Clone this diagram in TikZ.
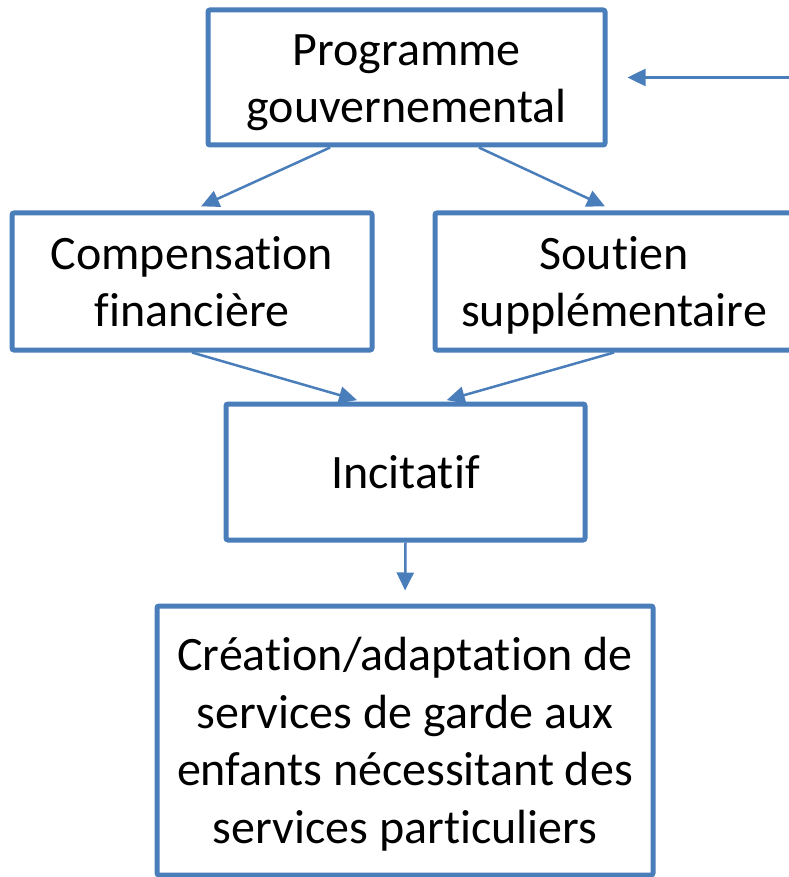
\documentclass[tikz,border=0pt]{standalone}
\usepackage{fontspec}
\setmainfont{Carlito}[Ligatures=NoCommon]
\usetikzlibrary{arrows.meta}
\usetikzlibrary{calc}
\definecolor{bleu}{RGB}{74,126,187}
\tikzstyle{boite} = [rectangle, rounded corners=2pt, draw=bleu, line width=5pt, align=center, text centered, font=\fontsize{48}{57.5}\selectfont, text depth=12.9pt]
\tikzstyle{fleche} = [-{Triangle[length=18pt,width=17pt]}, draw=bleu, fill=bleu, line width=2.5pt]

\begin{document}
\begin{tikzpicture}[x=1pt, y=-1pt]
\useasboundingbox (0,0) rectangle (788,877);
\node (prog) [boite, minimum width=397pt, minimum height=135pt, text height=103.2pt] at (406.5,77.5) {Programme\\gouvernemental};
\node (comp) [boite, minimum width=360pt, minimum height=137pt, text height=103.2pt] at (192,281.5) {Compensation\\financière};
\node (soutien) [boite, minimum width=358pt, minimum height=137pt, text height=103.2pt] at (614,281.5) {Soutien\\supplémentaire};
\node (incit) [boite, minimum width=359pt, minimum height=136pt, text height=45.7pt] at (405.5,472) {Incitatif};
\node (creation) [boite, minimum width=496pt, minimum height=269pt, text height=218.2pt] at (405,740.5) {Création/adaptation de\\services de garde aux\\enfants nécessitant des\\services particuliers};
\coordinate (entree) at (792,77.5);

\draw [fleche, shorten >=20pt] (entree) -- (prog.east);
\draw [fleche, shorten >=10pt] ($(prog.south west)!0.31!(prog.south east)$) -- (comp.north);
\draw [fleche, shorten >=10pt] ($(prog.south west)!0.68!(prog.south east)$) -- (soutien.north);
\draw [fleche, shorten >=5pt] (comp.south) -- ($(incit.north west)!0.38!(incit.north east)$);
\draw [fleche, shorten >=5pt] (soutien.south) -- ($(incit.north west)!0.6!(incit.north east)$);
\draw [fleche, shorten >=13pt] (incit.south) -- (creation.north);
\end{tikzpicture}
\end{document}
